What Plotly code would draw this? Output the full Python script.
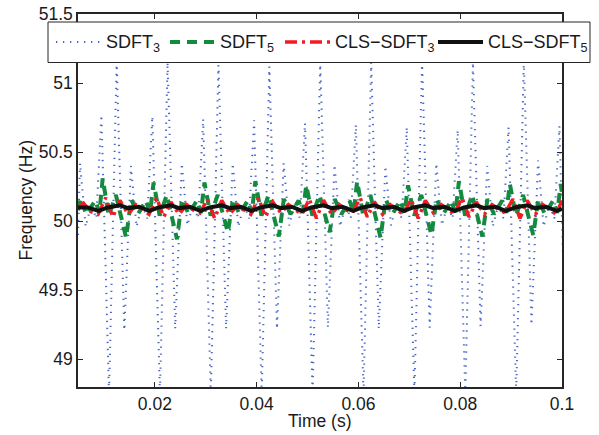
import plotly.graph_objects as go

# ---------------- data ----------------
sdft3_t = [0.0049, 0.0053, 0.0064, 0.0075, 0.0085,
           0.0095, 0.0110, 0.0125, 0.0140, 0.0153, 0.0164, 0.0175, 0.0185,
           0.0195, 0.0210, 0.0225, 0.0240, 0.0253, 0.0264, 0.0275, 0.0285,
           0.0295, 0.0310, 0.0325, 0.0340, 0.0353, 0.0364, 0.0375, 0.0385,
           0.0395, 0.0410, 0.0425, 0.0440, 0.0453, 0.0464, 0.0475, 0.0485,
           0.0495, 0.0510, 0.0525, 0.0540, 0.0553, 0.0564, 0.0575, 0.0585,
           0.0595, 0.0610, 0.0625, 0.0640, 0.0653, 0.0664, 0.0675, 0.0685,
           0.0695, 0.0710, 0.0725, 0.0740, 0.0753, 0.0764, 0.0775, 0.0785,
           0.0795, 0.0810, 0.0825, 0.0840, 0.0853, 0.0864, 0.0875, 0.0885,
           0.0895, 0.0910, 0.0925, 0.0940, 0.0953, 0.0964, 0.0975, 0.0985,
           0.0995, 0.1003]
sdft3_f = [49.90, 50.42, 49.96, 50.12, 50.02,
           50.77, 48.75, 51.16, 49.21, 50.40, 49.96, 50.12, 50.02,
           50.76, 48.75, 51.15, 49.22, 50.42, 49.97, 50.12, 50.02,
           50.74, 48.75, 51.13, 49.22, 50.42, 49.96, 50.12, 50.02,
           50.73, 48.75, 51.12, 49.22, 50.42, 49.97, 50.12, 50.02,
           50.71, 48.75, 51.16, 49.23, 50.41, 49.96, 50.12, 50.02,
           50.70, 48.75, 51.15, 49.22, 50.40, 49.97, 50.12, 50.02,
           50.68, 48.75, 51.16, 49.23, 50.42, 49.97, 50.12, 50.02,
           50.66, 48.75, 51.15, 49.24, 50.40, 49.96, 50.12, 50.02,
           50.68, 48.75, 51.16, 49.25, 50.44, 49.96, 50.12, 50.02,
           50.69, 49.60]

sdft5_t = [0.0049, 0.0055, 0.0065, 0.0083, 0.0091,
           0.00975, 0.01095, 0.01235, 0.01435, 0.01535, 0.01665, 0.01825, 0.01905,
           0.01975, 0.02095, 0.02235, 0.02435, 0.02535, 0.02665, 0.02825, 0.02905,
           0.02975, 0.03095, 0.03235, 0.03435, 0.03535, 0.03665, 0.03825, 0.03905,
           0.03975, 0.04095, 0.04235, 0.04435, 0.04535, 0.04665, 0.04825, 0.04905,
           0.04975, 0.05095, 0.05235, 0.05435, 0.05535, 0.05665, 0.05825, 0.05905,
           0.05975, 0.06095, 0.06235, 0.06435, 0.06535, 0.06665, 0.06825, 0.06905,
           0.06975, 0.07095, 0.07235, 0.07435, 0.07535, 0.07665, 0.07825, 0.07905,
           0.07975, 0.08095, 0.08235, 0.08435, 0.08535, 0.08665, 0.08825, 0.08905,
           0.08975, 0.09095, 0.09235, 0.09435, 0.09535, 0.09665, 0.09825, 0.09905,
           0.09975, 0.1000]
sdft5_f = [50.08, 50.17, 50.05, 50.15, 50.06,
           50.31, 50.04, 50.19, 49.88, 50.16, 50.05, 50.15, 50.06,
           50.28, 50.04, 50.19, 49.87, 50.16, 50.05, 50.15, 50.06,
           50.28, 50.04, 50.19, 49.92, 50.16, 50.05, 50.15, 50.06,
           50.29, 50.04, 50.19, 49.89, 50.16, 50.05, 50.15, 50.06,
           50.26, 50.04, 50.19, 49.92, 50.16, 50.05, 50.15, 50.06,
           50.29, 50.04, 50.19, 49.88, 50.16, 50.05, 50.15, 50.06,
           50.26, 50.04, 50.19, 49.90, 50.16, 50.05, 50.15, 50.06,
           50.29, 50.04, 50.19, 49.89, 50.16, 50.05, 50.15, 50.06,
           50.27, 50.04, 50.19, 49.90, 50.16, 50.05, 50.15, 50.06,
           50.27, 50.20]

cls3_t = [0.0049, 0.0060, 0.0074,
          0.00885, 0.01035, 0.01175, 0.01315, 0.01475, 0.01625, 0.01765,
          0.01885, 0.02035, 0.02175, 0.02315, 0.02475, 0.02625, 0.02765,
          0.02885, 0.03035, 0.03175, 0.03315, 0.03475, 0.03625, 0.03765,
          0.03885, 0.04035, 0.04175, 0.04315, 0.04475, 0.04625, 0.04765,
          0.04885, 0.05035, 0.05175, 0.05315, 0.05475, 0.05625, 0.05765,
          0.05885, 0.06035, 0.06175, 0.06315, 0.06475, 0.06625, 0.06765,
          0.06885, 0.07035, 0.07175, 0.07315, 0.07475, 0.07625, 0.07765,
          0.07885, 0.08035, 0.08175, 0.08315, 0.08475, 0.08625, 0.08765,
          0.08885, 0.09035, 0.09175, 0.09315, 0.09475, 0.09625, 0.09765,
          0.09885, 0.1000]
cls3_f = [50.10, 50.13, 50.07,
          50.05, 50.17, 50.03, 50.15, 50.05, 50.12, 50.08,
          50.05, 50.17, 50.03, 50.14, 50.05, 50.12, 50.08,
          50.06, 50.16, 50.02, 50.15, 50.05, 50.12, 50.08,
          50.05, 50.17, 50.03, 50.14, 50.06, 50.12, 50.08,
          50.05, 50.16, 50.02, 50.15, 50.05, 50.12, 50.08,
          50.06, 50.17, 50.03, 50.14, 50.05, 50.12, 50.08,
          50.05, 50.16, 50.02, 50.15, 50.06, 50.12, 50.08,
          50.05, 50.17, 50.03, 50.14, 50.05, 50.12, 50.08,
          50.06, 50.16, 50.02, 50.15, 50.05, 50.12, 50.08,
          50.05, 50.15]

cls5_t = [0.0049, 0.0068,
          0.00895, 0.01075, 0.01315, 0.01475, 0.01685,
          0.01895, 0.02075, 0.02315, 0.02475, 0.02685,
          0.02895, 0.03075, 0.03315, 0.03475, 0.03685,
          0.03895, 0.04075, 0.04315, 0.04475, 0.04685,
          0.04895, 0.05075, 0.05315, 0.05475, 0.05685,
          0.05895, 0.06075, 0.06315, 0.06475, 0.06685,
          0.06895, 0.07075, 0.07315, 0.07475, 0.07685,
          0.07895, 0.08075, 0.08315, 0.08475, 0.08685,
          0.08895, 0.09075, 0.09315, 0.09475, 0.09685,
          0.09895, 0.1000]
cls5_f = [50.10, 50.10,
          50.075, 50.10, 50.115, 50.095, 50.105,
          50.075, 50.10, 50.115, 50.095, 50.105,
          50.075, 50.10, 50.115, 50.095, 50.105,
          50.075, 50.10, 50.115, 50.095, 50.105,
          50.075, 50.10, 50.115, 50.095, 50.105,
          50.075, 50.10, 50.115, 50.095, 50.105,
          50.075, 50.10, 50.115, 50.095, 50.105,
          50.075, 50.10, 50.115, 50.095, 50.105,
          50.075, 50.10, 50.115, 50.095, 50.105,
          50.075, 50.09]

x_ticks = [0.02, 0.04, 0.06, 0.08, 0.1]
x_tick_labels = ["0.02", "0.04", "0.06", "0.08", "0.1"]
y_ticks = [49, 49.5, 50, 50.5, 51, 51.5]
y_tick_labels = ["49", "49.5", "50", "50.5", "51", "51.5"]
series_names = ["SDFT<sub>3</sub>", "SDFT<sub>5</sub>",
                "CLS\u2212SDFT<sub>3</sub>", "CLS\u2212SDFT<sub>5</sub>"]
x_title = "Time (s)"
y_title = "Frequency (Hz)"

# ---------------- figure ----------------
FONT = "Liberation Sans, Arial, Helvetica, sans-serif"
TXT = "#1a1a1a"
AX = "#262626"
W, H = 599, 435
ML, MR, MT, MB = 78, 37, 14, 48
PW, PH = W - ML - MR, H - MT - MB


def px_x(p):  # pixel column -> paper fraction (layout only)
    return (p - ML) / PW


def px_y(p):  # pixel row -> paper fraction (layout only)
    return 1 - (p - MT) / PH


fig = go.Figure()
styles = [dict(color="#4a66c6", width=2, dash="1.3px,5.7px"),
          dict(color="#138a3e", width=4, dash="10px,7px"),
          dict(color="#ee1d23", width=3.5, dash="12px,5px,3px,5px"),
          dict(color="#111111", width=4)]
series = [(sdft3_t, sdft3_f), (sdft5_t, sdft5_f), (cls3_t, cls3_f), (cls5_t, cls5_f)]
for (t, f), name, st in zip(series, series_names, styles):
    fig.add_trace(go.Scatter(x=t, y=f, mode="lines", name=name, line=st, showlegend=False))

axis_common = dict(showline=True, linecolor=AX, linewidth=1.5, mirror="ticks",
                   ticks="inside", ticklen=5, tickcolor=AX, tickwidth=1,
                   showgrid=False, zeroline=False,
                   tickfont=dict(family=FONT, size=17.5, color=TXT))
fig.update_xaxes(range=[0.0049, 0.1], tickvals=x_ticks, ticktext=x_tick_labels,
                 **axis_common)
fig.update_yaxes(range=[48.8, 51.5], tickvals=y_ticks, ticktext=y_tick_labels,
                 **axis_common)

# axis titles
fig.add_annotation(text=x_title, xref="paper", yref="paper", x=0.5, y=px_y(421),
                   xanchor="center", yanchor="middle", showarrow=False,
                   font=dict(family=FONT, size=17.5, color=TXT))
fig.add_annotation(text=y_title, xref="paper", yref="paper", x=px_x(25), y=0.5,
                   xanchor="center", yanchor="middle", showarrow=False, textangle=-90,
                   font=dict(family=FONT, size=17.5, color=TXT))

# legend: frame spanning beyond the axes, one sample line + label per series
fig.add_shape(type="rect", xref="paper", yref="paper",
              x0=px_x(48), x1=px_x(590), y0=px_y(62.5), y1=px_y(22),
              line=dict(color=AX, width=1), fillcolor="white", layer="above")
sample_x0 = [56, 170, 285, 438]
sample_len = 45
for name, st, sx in zip(series_names, styles, sample_x0):
    fig.add_shape(type="line", xref="paper", yref="paper",
                  x0=px_x(sx), x1=px_x(sx + sample_len), y0=px_y(42), y1=px_y(42),
                  line=st, layer="above")
    fig.add_annotation(text=name, xref="paper", yref="paper",
                       x=px_x(sx + sample_len + 3), y=px_y(43),
                       xanchor="left", yanchor="middle", showarrow=False,
                       font=dict(family=FONT, size=18, color=TXT))

fig.update_layout(
    width=W, height=H,
    margin=dict(l=ML, r=MR, t=MT, b=MB, autoexpand=False),
    paper_bgcolor="white", plot_bgcolor="white",
    font=dict(family=FONT, size=18, color=TXT),
    showlegend=False,
)

# the page's default 8px body margin would shift the 599x435 figure; remove it
fig.write_html("out.html", config={"displayModeBar": False},
               post_script="document.body.style.margin='0';document.body.style.padding='0';")
